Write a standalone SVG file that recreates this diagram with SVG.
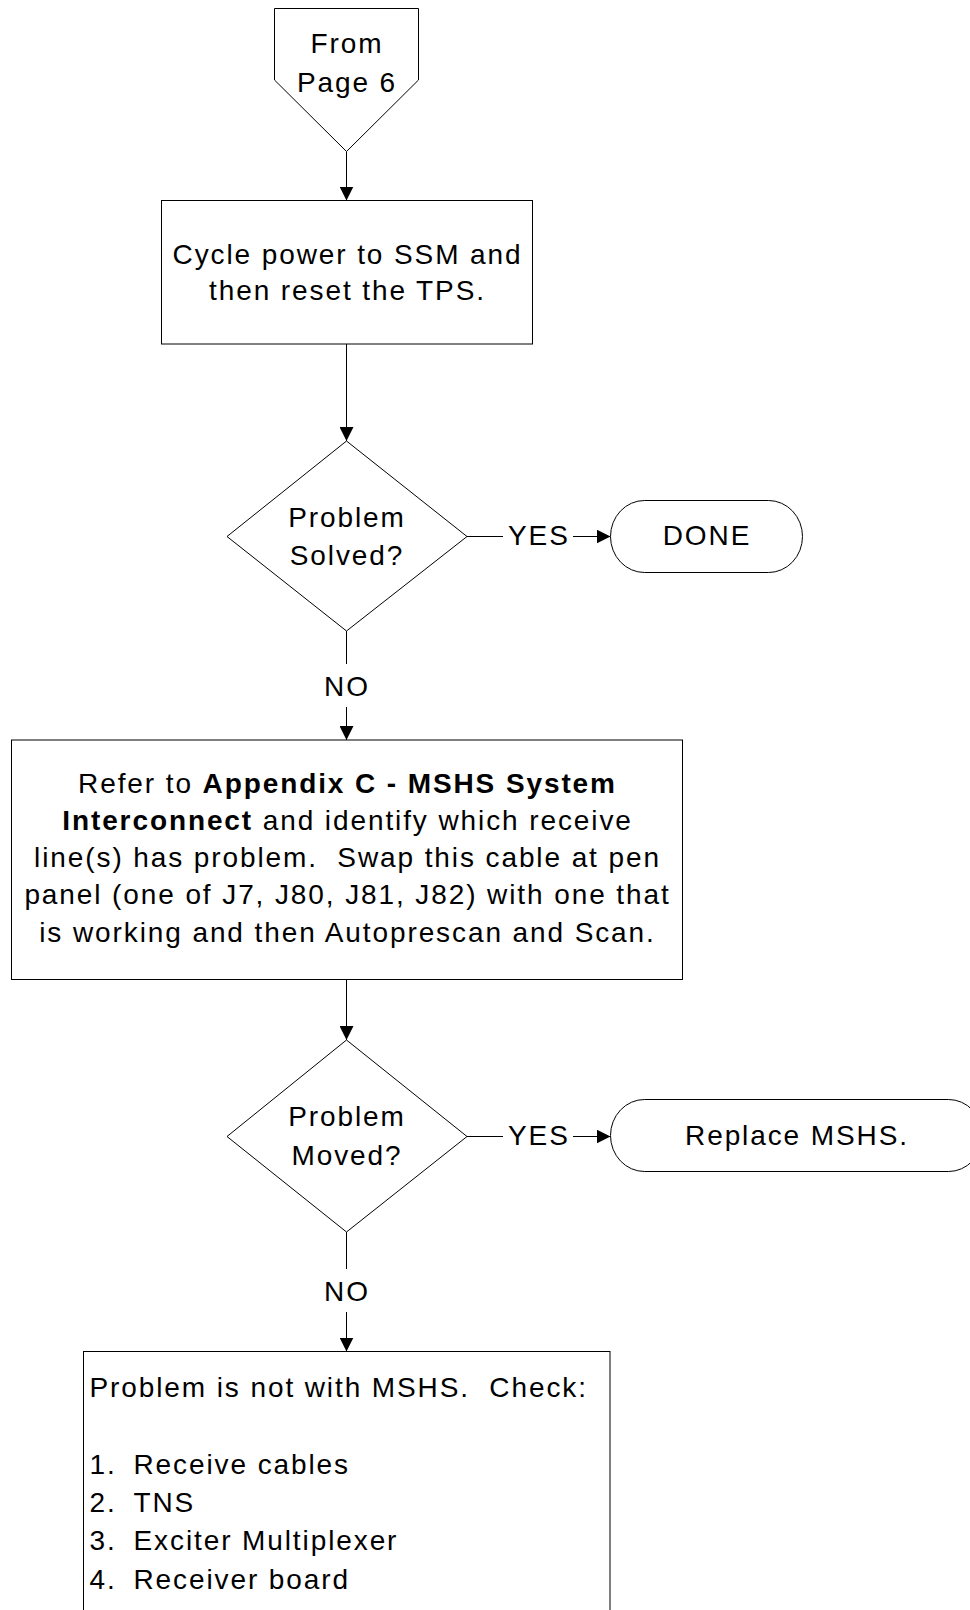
<svg xmlns="http://www.w3.org/2000/svg" width="970" height="1610" viewBox="0 0 970 1610">
  <style>
    .shape { fill: #ffffff; stroke: #000000; stroke-width: 1; }
    .line { fill: none; stroke: #000000; stroke-width: 1; }
    .t { font-family: "Liberation Sans", Arial, Helvetica, sans-serif; font-size: 28px; letter-spacing: 1.9px; fill: #000000; }
    .c { text-anchor: middle; }
    .b { font-weight: bold; }
  </style>
  <defs>
    <marker id="arrow" markerUnits="userSpaceOnUse" markerWidth="14" markerHeight="14" refX="14" refY="7" orient="auto">
      <path d="M0,0 L14,7 L0,14 Z" fill="#000000"/>
    </marker>
  </defs>

  <rect width="970" height="1610" fill="#ffffff"/>

  <!-- connectors -->
  <g id="connectors">
    <line class="line" x1="346.5" y1="151.5" x2="346.5" y2="200.5" marker-end="url(#arrow)"/>
    <line class="line" x1="346.5" y1="344" x2="346.5" y2="441" marker-end="url(#arrow)"/>
    <!-- Solved? : NO -->
    <line class="line" x1="346.5" y1="631" x2="346.5" y2="664"/>
    <line class="line" x1="346.5" y1="707" x2="346.5" y2="740" marker-end="url(#arrow)"/>
    <text class="t c" x="347" y="696">NO</text>
    <!-- Solved? : YES -->
    <line class="line" x1="467" y1="536.5" x2="503" y2="536.5"/>
    <line class="line" x1="573" y1="536.5" x2="610.5" y2="536.5" marker-end="url(#arrow)"/>
    <text class="t" x="508" y="545">YES</text>
    <line class="line" x1="346.5" y1="980" x2="346.5" y2="1040" marker-end="url(#arrow)"/>
    <!-- Moved? : YES -->
    <line class="line" x1="467" y1="1136.5" x2="503" y2="1136.5"/>
    <line class="line" x1="573" y1="1136.5" x2="610.5" y2="1136.5" marker-end="url(#arrow)"/>
    <text class="t" x="508" y="1145">YES</text>
    <!-- Moved? : NO -->
    <line class="line" x1="346.5" y1="1232" x2="346.5" y2="1269"/>
    <line class="line" x1="346.5" y1="1312" x2="346.5" y2="1351.5" marker-end="url(#arrow)"/>
    <text class="t c" x="347" y="1300.5">NO</text>
  </g>

  <!-- off-page connector -->
  <g id="from-page-6">
    <polygon class="shape" points="274.5,8.5 418.5,8.5 418.5,80 346.5,151.5 274.5,80"/>
    <text class="t c" x="347" y="53">From</text>
    <text class="t c" x="347" y="91.5">Page 6</text>
  </g>

  <g id="cycle-power">
    <rect class="shape" x="161.5" y="200.5" width="371" height="143.5"/>
    <text class="t c" x="347.5" y="263.5">Cycle power to SSM and</text>
    <text class="t c" x="347.5" y="300">then reset the TPS.</text>
  </g>

  <g id="problem-solved">
    <polygon class="shape" points="346.5,441 467,536.5 346.5,631 227,536.5"/>
    <text class="t c" x="347" y="527">Problem</text>
    <text class="t c" x="347" y="564.5">Solved?</text>
  </g>

  <g id="done">
    <rect class="shape" x="610.5" y="500.5" width="192" height="72" rx="34" ry="36"/>
    <text class="t c" x="707" y="545">DONE</text>
  </g>

  <g id="swap-cable">
    <rect class="shape" x="11.5" y="740" width="671" height="239.5"/>
    <text class="t c" x="347.5" y="793">Refer to <tspan class="b">Appendix C - MSHS System</tspan></text>
    <text class="t c" x="347.5" y="830"><tspan class="b">Interconnect</tspan> and identify which receive</text>
    <text class="t c" x="347.5" y="867" xml:space="preserve">line(s) has problem.  Swap this cable at pen</text>
    <text class="t c" x="347.5" y="904">panel (one of J7, J80, J81, J82) with one that</text>
    <text class="t c" x="347.5" y="941.5">is working and then Autoprescan and Scan.</text>
  </g>

  <g id="problem-moved">
    <polygon class="shape" points="346.5,1040 467,1136.5 346.5,1232 227,1136.5"/>
    <text class="t c" x="347" y="1126">Problem</text>
    <text class="t c" x="347" y="1164.5">Moved?</text>
  </g>

  <g id="replace-mshs">
    <rect class="shape" x="610.5" y="1099.5" width="372" height="72" rx="34" ry="36"/>
    <text class="t c" x="797" y="1145">Replace MSHS.</text>
  </g>

  <g id="check-list">
    <rect class="shape" x="83.5" y="1351.5" width="526.5" height="280"/>
    <text class="t" x="89.5" y="1396.5" xml:space="preserve">Problem is not with MSHS.  Check:</text>
    <text class="t" x="89.5" y="1473.5">1.</text>
    <text class="t" x="133.5" y="1473.5">Receive cables</text>
    <text class="t" x="89.5" y="1511.5">2.</text>
    <text class="t" x="133.5" y="1511.5">TNS</text>
    <text class="t" x="89.5" y="1550">3.</text>
    <text class="t" x="133.5" y="1550">Exciter Multiplexer</text>
    <text class="t" x="89.5" y="1588.5">4.</text>
    <text class="t" x="133.5" y="1588.5">Receiver board</text>
  </g>
</svg>
